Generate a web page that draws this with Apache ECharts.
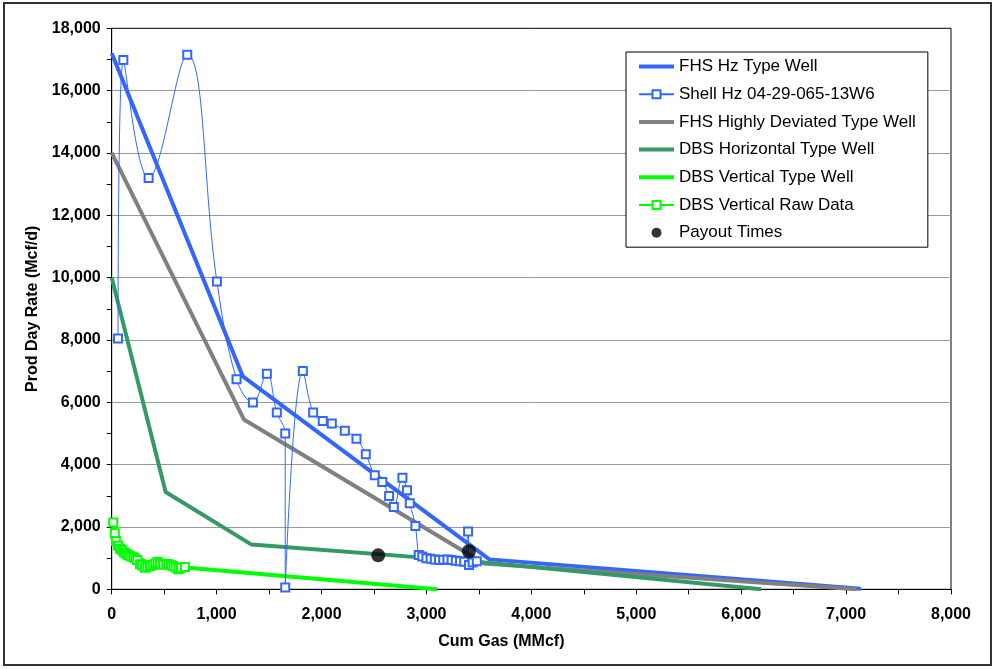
<!DOCTYPE html>
<html><head><meta charset="utf-8">
<script src="https://cdn.jsdelivr.net/npm/echarts@6/dist/echarts.min.js"></script>
<style>html,body{margin:0;padding:0;background:#fff}#c{width:995px;height:669px}</style>
</head><body><div id="c"></div>
<script>
// ---- data ----
const xTicks = [0,1000,2000,3000,4000,5000,6000,7000,8000];
const yTicks = [0,2000,4000,6000,8000,10000,12000,14000,16000,18000];

const fhsHzX = [0, 1250, 3600, 7140];
const fhsHzY = [17200, 6830, 960, 20];

const shellX = [60,111,352,720,1003,1190,1346,1479,1574,1654,1654,1822,1920,2012,2098,2222,2333,2422,2508,2580,2644,2689,2771,2815,2841,2895,2927,2960,3000,3040,3080,3120,3160,3200,3240,3280,3320,3360,3397,3406,3440,3480];
const shellY = [8050,16980,13196,17154,9875,6737,5990,6920,5669,4995,55,7004,5669,5400,5316,5091,4834,4331,3657,3443,2994,2641,3583,3176,2759,2031,1100,1050,1000,980,960,940,950,960,940,920,900,880,1851,780,860,900];

const fhsHdX = [0, 1260, 3550, 7100];
const fhsHdY = [14000, 5450, 830, 0];

const dbsHzX = [0, 514, 1333, 3500, 6190];
const dbsHzY = [10000, 3120, 1434, 880, 0];

const dbsVtX = [0, 50, 150, 350, 700, 3100];
const dbsVtY = [2200, 1600, 1150, 850, 700, 0];

const rawX = [15,30,40,60,79,100,118,140,158,180,206,225,244,270,290,317,340,365,390,415,438,460,490,520,540,565,587,610,635,660,698];
const rawY = [2140,1800,1550,1400,1305,1250,1177,1130,1090,1060,1027,990,940,802,760,695,720,748,780,830,877,820,790,810,802,770,748,700,642,690,716];

const payX = [2540, 3405];
const payY = [1090, 1220];

const names = ['FHS Hz Type Well','Shell Hz 04-29-065-13W6','FHS Highly Deviated Type Well','DBS Horizontal Type Well','DBS Vertical Type Well','DBS Vertical Raw Data','Payout Times'];

function zip(xs, ys){ return xs.map((x,i)=>[x, ys[i]]); }

const FONT = 'Arial, "Liberation Sans", sans-serif';
const thickIcon = 'path://M0,0h35v4h-35z';
const chart = echarts.init(document.getElementById('c'), null, {renderer:'canvas'});
chart.setOption({
  animation:false,
  backgroundColor:'#fff',
  textStyle:{fontFamily:FONT},
  graphic:[{type:'rect', shape:{x:4,y:3,width:987,height:662}, style:{fill:'none', stroke:'#333', lineWidth:2}, z:-10}],
  grid:{left:111.7, right:44, top:28.3, bottom:79.7, show:true, borderColor:'#000', borderWidth:1, backgroundColor:'transparent'},
  legend:{
    orient:'vertical', left:626, top:52,
    padding:[6,12,6,12],
    itemWidth:35, itemHeight:10, itemGap:10.7,
    borderColor:'#000', borderWidth:1, backgroundColor:'#fff',
    textStyle:{fontFamily:FONT, fontSize:17, color:'#000'},
    data:[
      {name:names[0], icon:thickIcon},
      {name:names[1]},
      {name:names[2], icon:thickIcon},
      {name:names[3], icon:thickIcon},
      {name:names[4], icon:thickIcon},
      {name:names[5]},
      {name:names[6], icon:'circle'}
    ]
  },
  xAxis:{
    type:'value', min:xTicks[0], max:xTicks[xTicks.length-1], interval:1000,
    name:'Cum Gas (MMcf)', nameLocation:'middle', nameGap:44,
    nameTextStyle:{fontFamily:FONT, fontWeight:'bold', fontSize:16, color:'#000', padding:[0,60,0,0]},
    axisLine:{lineStyle:{color:'#000', width:1}},
    axisTick:{show:true, length:5, lineStyle:{color:'#000'}},
    minorTick:{show:true, splitNumber:2, length:5, lineStyle:{color:'#000'}},
    axisLabel:{fontFamily:FONT, fontWeight:'bold', fontSize:16, color:'#000', margin:17,
      formatter:v=>v.toLocaleString('en-US')},
    splitLine:{show:false}
  },
  yAxis:{
    type:'value', min:yTicks[0], max:yTicks[yTicks.length-1], interval:2000,
    name:'Prod Day Rate (Mcf/d)', nameLocation:'middle', nameGap:68,
    nameTextStyle:{fontFamily:FONT, fontWeight:'bold', fontSize:16, color:'#000'},
    axisLine:{show:true, lineStyle:{color:'#000', width:1}},
    axisTick:{show:true, length:5, lineStyle:{color:'#000'}},
    minorTick:{show:true, splitNumber:2, length:5, lineStyle:{color:'#000'}},
    axisLabel:{fontFamily:FONT, fontWeight:'bold', fontSize:16, color:'#000', margin:11,
      formatter:v=>v.toLocaleString('en-US')},
    splitLine:{show:true, showMinLine:false, showMaxLine:false, lineStyle:{color:'#999', width:1}}
  },
  series:[
    {name:names[0], type:'line', data:zip(fhsHzX,fhsHzY), symbol:'none', lineStyle:{color:'#3366FF', width:4}, itemStyle:{color:'#3366FF'}, z:2},
    {name:names[1], type:'line', data:zip(shellX,shellY), smooth:0.4, symbol:'emptyRect', symbolSize:8, lineStyle:{color:'#3366FF', width:1}, itemStyle:{color:'#3366FF', borderColor:'#3366FF', borderWidth:1.2}, z:3},
    {name:names[2], type:'line', data:zip(fhsHdX,fhsHdY), symbol:'none', lineStyle:{color:'#808080', width:4}, itemStyle:{color:'#808080'}, z:2},
    {name:names[3], type:'line', data:zip(dbsHzX,dbsHzY), symbol:'none', lineStyle:{color:'#339966', width:4}, itemStyle:{color:'#339966'}, z:2},
    {name:names[4], type:'line', data:zip(dbsVtX,dbsVtY), symbol:'none', lineStyle:{color:'#00FF00', width:4}, itemStyle:{color:'#00FF00'}, z:2},
    {name:names[5], type:'line', data:zip(rawX,rawY), symbol:'emptyRect', symbolSize:8, lineStyle:{color:'#00FF00', width:1}, itemStyle:{color:'#00FF00', borderColor:'#00FF00', borderWidth:1.2}, z:3},
    {name:names[6], type:'scatter', data:zip(payX,payY), symbol:'circle', symbolSize:14, itemStyle:{color:'#000'}, z:5}
  ]
});
</script></body></html>
